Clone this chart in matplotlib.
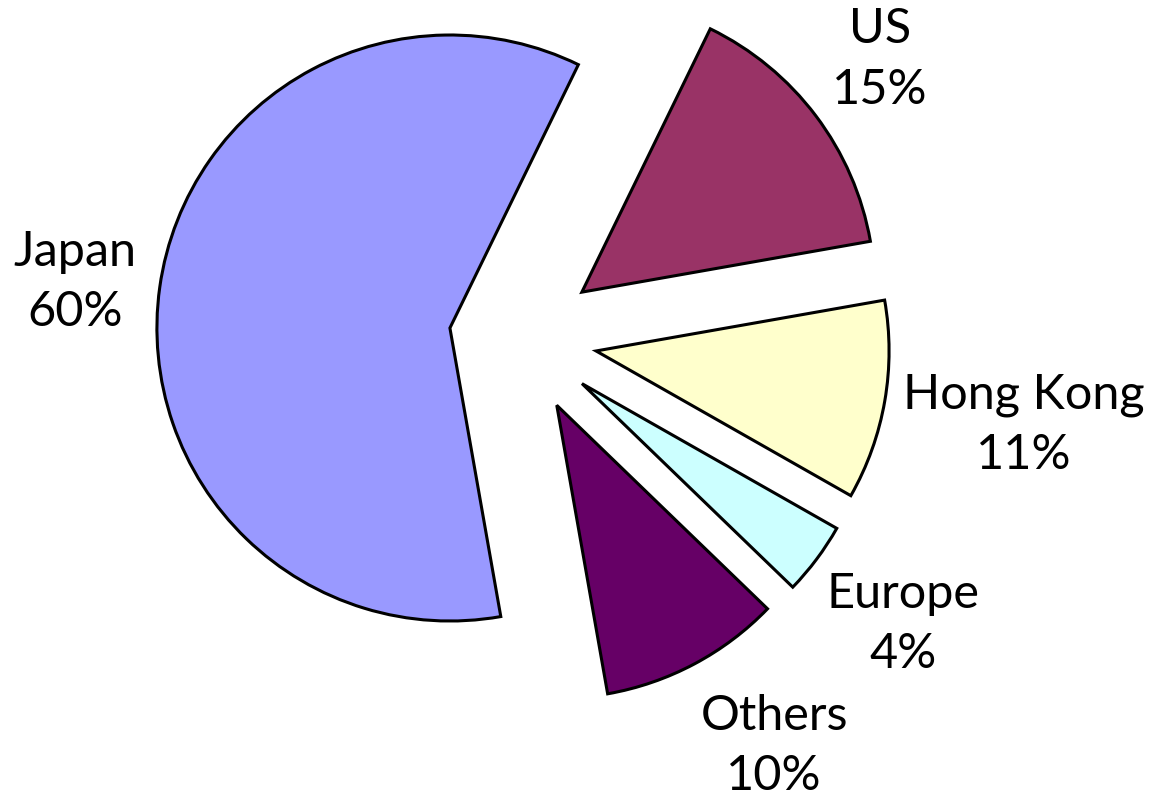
import numpy as np
import matplotlib
matplotlib.use("Agg")
import matplotlib.pyplot as plt

# pie data, Excel-style order (clockwise)
labels = ["Japan", "US", "Hong Kong", "Europe", "Others"]
shares = [60, 15, 11, 4, 10]
colors = ["#9999FF", "#993366", "#FFFFCC", "#CCFFFF", "#660066"]
explode = [0.245, 0.26, 0.26, 0.26, 0.26]
label_dist = [1.29, 1.29, 1.48, 1.37, 1.38]
label_turn = [1, 1, 0, 0, 4.5]  # degrees, nudge along the arc

fig = plt.figure(figsize=(11.54, 7.98), dpi=100)
ax = fig.add_axes([0, 0, 1, 1])

wedges, texts = ax.pie(shares, colors=colors, explode=explode, startangle=280,
                       counterclock=False, radius=1.0,
                       wedgeprops=dict(edgecolor="black", linewidth=2.2))

# labels: name + percent, centred along each wedge's mid angle
for w, lab, val, d, t in zip(wedges, labels, shares, label_dist, label_turn):
    mid = np.deg2rad((w.theta1 + w.theta2) / 2 + t)
    cx, cy = w.center
    ax.text(cx + d * np.cos(mid), cy + d * np.sin(mid), "%s\n%d%%" % (lab, val),
            ha="center", va="center", fontsize=35, family=["Lato", "DejaVu Sans"],
            linespacing=1.45)

r_px = 293.0
ax.set_xlim(-521 / r_px, (1154 - 521) / r_px)
ax.set_ylim(-(798 - 338) / r_px, 338 / r_px)
ax.set_aspect("equal")
ax.axis("off")

fig.savefig("out.png", dpi=100)
